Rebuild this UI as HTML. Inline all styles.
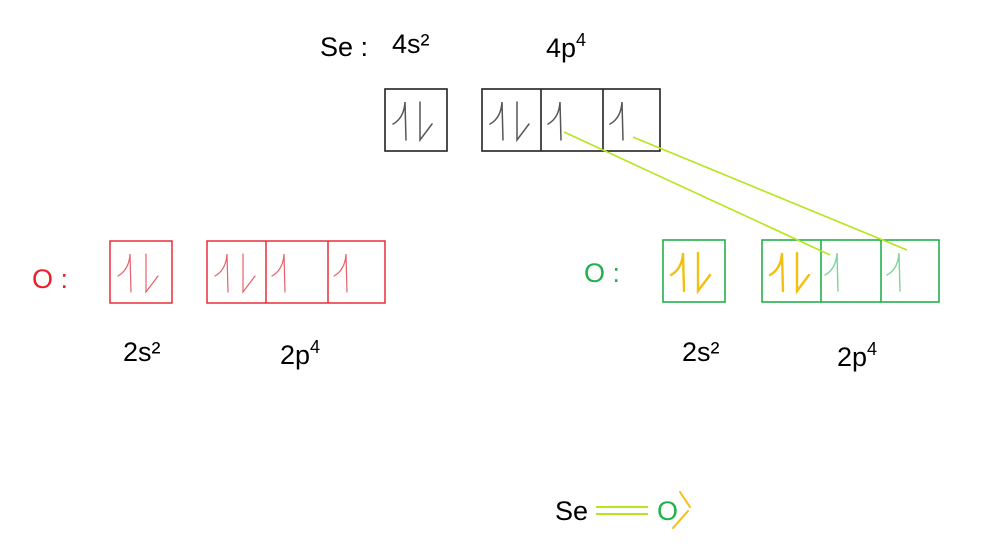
<!DOCTYPE html>
<html><head><meta charset="utf-8"><style>
html,body{margin:0;padding:0;background:#fff}
svg{display:block}
text{font-family:"Liberation Sans",sans-serif;font-size:27px}
</style></head><body>
<svg width="1000" height="557" viewBox="0 0 1000 557" xmlns="http://www.w3.org/2000/svg">
<defs>
<g id="up"><path d="M-13 10 Q-2 4 -1 -12 L0 26" fill="none" stroke-linecap="round"/></g>
<g id="dn"><path d="M0 -12 L0 26 L12 10" fill="none" stroke-linecap="round"/></g>
</defs>
<!-- Se -->
<text x="320" y="56">Se :</text>
<text x="392" y="53">4s²</text>
<text x="546" y="57">4p<tspan dy="-11" font-size="18">4</tspan></text>
<g fill="none" stroke="#222" stroke-width="1.6">
<rect x="385" y="89" width="62" height="62"/>
<rect x="482" y="89" width="178" height="62"/>
<line x1="541" y1="89" x2="541" y2="151"/><line x1="603" y1="89" x2="603" y2="151"/>
</g>
<g stroke="#555" stroke-width="1.5">
<use href="#up" x="406" y="114"/><use href="#dn" x="420" y="114"/>
<use href="#up" x="503" y="114"/><use href="#dn" x="517" y="114"/>
<use href="#up" x="561" y="114"/><use href="#up" x="623" y="114"/>
</g>
<!-- red O -->
<text x="32" y="288" fill="#e8202a" font-size="30">O :</text>
<g fill="none" stroke="#e8202a" stroke-width="1.4">
<rect x="110" y="241" width="62" height="62"/>
<rect x="207" y="241" width="178" height="62"/>
<line x1="266" y1="241" x2="266" y2="303"/><line x1="328" y1="241" x2="328" y2="303"/>
</g>
<g stroke="#e8606a" stroke-width="1.2">
<use href="#up" x="131" y="266"/><use href="#dn" x="146" y="266"/>
<use href="#up" x="228" y="266"/><use href="#dn" x="243" y="266"/>
<use href="#up" x="285" y="266"/><use href="#up" x="347" y="266"/>
</g>
<text x="123" y="361">2s²</text>
<text x="280" y="364">2p<tspan dy="-11" font-size="18">4</tspan></text>
<!-- green O -->
<text x="584" y="282" fill="#22b14c" font-size="28">O :</text>
<g fill="none" stroke="#22b14c" stroke-width="1.6">
<rect x="663" y="240" width="62" height="62"/>
<rect x="762" y="240" width="177" height="62"/>
<line x1="821" y1="240" x2="821" y2="302"/><line x1="881" y1="240" x2="881" y2="302"/>
</g>
<g stroke="#f2c012" stroke-width="2.4">
<use href="#up" x="684" y="265"/><use href="#dn" x="698" y="265"/>
<use href="#up" x="783" y="265"/><use href="#dn" x="797" y="265"/>
</g>
<g stroke="#7dd49a" stroke-width="1.4">
<use href="#up" x="838" y="265"/><use href="#up" x="900" y="265"/>
</g>
<text x="682" y="361">2s²</text>
<text x="837" y="366">2p<tspan dy="-11" font-size="18">4</tspan></text>
<!-- connecting lines -->
<g stroke="#b5e61d" stroke-width="1.6">
<line x1="564" y1="132" x2="830" y2="255"/>
<line x1="633" y1="137" x2="907" y2="250"/>
</g>
<!-- Se=O -->
<text x="555" y="520" font-size="28">Se</text>
<g stroke="#b5e61d" stroke-width="2">
<line x1="596" y1="507" x2="648" y2="507"/><line x1="596" y1="514" x2="648" y2="514"/>
</g>
<text x="657" y="520" fill="#22b14c" font-size="28">O</text>
<g stroke="#f2c012" stroke-width="2" stroke-linecap="round">
<line x1="680" y1="492" x2="690" y2="507"/><line x1="688" y1="511" x2="673" y2="528"/>
</g>
</svg>
</body></html>
